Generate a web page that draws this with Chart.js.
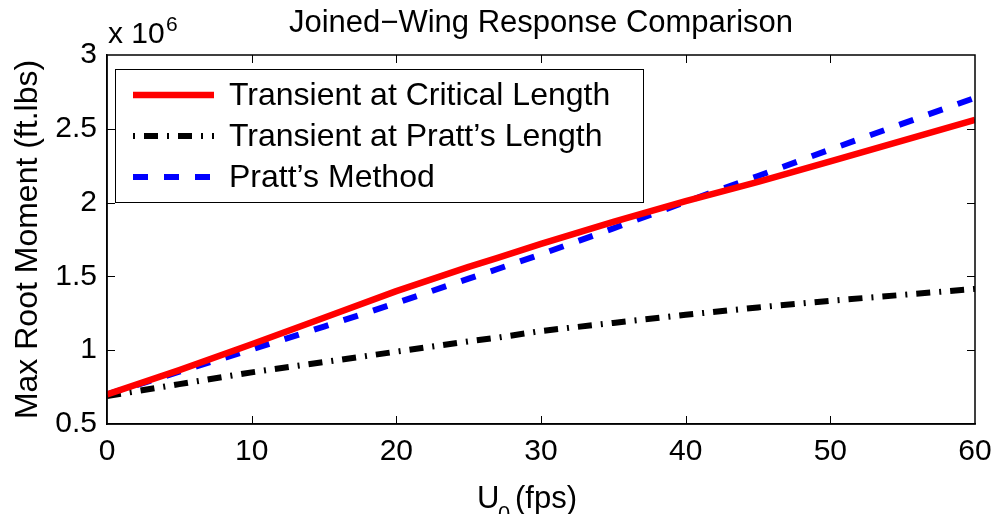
<!DOCTYPE html>
<html>
<head>
<meta charset="utf-8">
<title>Joined-Wing Response Comparison</title>
<script src="https://cdn.jsdelivr.net/npm/chart.js@4"></script>
<style>
  html, body { margin: 0; padding: 0; background: #fff; }
  canvas { display: block; }
</style>
</head>
<body>
<canvas id="momentChart" width="995" height="514"></canvas>
<script>
// U0 (fps) and max root moment, in units of 10^6 ft.lbs
const U0 = [0, 5, 10, 15, 20, 25, 27, 30, 35, 40, 45, 50, 55, 60];
const criticalLength = [0.70, 0.865, 1.04, 1.22, 1.40, 1.565, 1.625, 1.72, 1.87, 2.01, 2.14, 2.28, 2.42, 2.56];
const prattsLength = [0.69, 0.77, 0.85, 0.92, 0.99, 1.06, 1.085, 1.13, 1.185, 1.24, 1.29, 1.335, 1.375, 1.415];
const prattsMethod = [0.70, 0.855, 1.005, 1.16, 1.32, 1.485, 1.55, 1.65, 1.825, 2.005, 2.18, 2.36, 2.535, 2.71];

const seriesLabels = ["Transient at Critical Length", "Transient at Pratt\u2019s Length", "Pratt\u2019s Method"];
const xTicks = [0, 10, 20, 30, 40, 50, 60];
const yTicks = [0.5, 1, 1.5, 2, 2.5, 3];

const FONT = "'Liberation Sans', Arial, Helvetica, sans-serif";

const toPoints = ys => U0.map((x, i) => ({ x: x, y: ys[i] }));

// matlab-ish decorations: box, inward ticks, legend, title, axis labels
const matlabLook = {
  id: "matlabLook",
  afterDraw(chart) {
    const ctx = chart.ctx;
    const a = chart.chartArea;
    const xs = chart.scales.x;
    const ys = chart.scales.y;
    const tick = 8;

    ctx.save();
    ctx.strokeStyle = "#000";
    ctx.lineWidth = 1.5;
    ctx.strokeRect(a.left, a.top, a.right - a.left, a.bottom - a.top);

    ctx.lineWidth = 1;
    ctx.beginPath();
    xTicks.slice(1, -1).forEach(v => {
      const px = Math.round(xs.getPixelForValue(v)) + 0.5;
      ctx.moveTo(px, a.bottom); ctx.lineTo(px, a.bottom - tick);
      ctx.moveTo(px, a.top); ctx.lineTo(px, a.top + tick);
    });
    yTicks.slice(1, -1).forEach(v => {
      const py = Math.round(ys.getPixelForValue(v)) + 0.5;
      ctx.moveTo(a.left, py); ctx.lineTo(a.left + tick, py);
      ctx.moveTo(a.right, py); ctx.lineTo(a.right - tick, py);
    });
    ctx.stroke();

    // legend
    const lx = 115, ly = 69, lw = 528, lh = 133;
    ctx.fillStyle = "#fff";
    ctx.fillRect(lx, ly, lw, lh);
    ctx.strokeStyle = "#000";
    ctx.lineWidth = 1;
    ctx.strokeRect(lx + 0.5, ly + 0.5, lw, lh);
    const rowY = [95, 136, 177];
    chart.data.datasets.forEach((ds, i) => {
      ctx.save();
      ctx.strokeStyle = ds.borderColor;
      ctx.lineWidth = ds.borderWidth;
      ctx.setLineDash(ds.legendDash || ds.borderDash || []);
      ctx.beginPath();
      ctx.moveTo(133, rowY[i]);
      ctx.lineTo(214, rowY[i]);
      ctx.stroke();
      ctx.restore();
      ctx.fillStyle = "#000";
      ctx.font = "32px " + FONT;
      ctx.textAlign = "left";
      ctx.textBaseline = "middle";
      ctx.fillText(ds.label, 229, rowY[i] + 1);
    });

    // title
    ctx.fillStyle = "#000";
    ctx.textAlign = "center";
    ctx.textBaseline = "alphabetic";
    ctx.font = "31px " + FONT;
    ctx.fillText("Joined\u2212Wing Response Comparison", (a.left + a.right) / 2, 32);

    // exponent
    ctx.textAlign = "left";
    ctx.font = "30px " + FONT;
    ctx.fillText("x 10", 108, 43);
    ctx.font = "21px " + FONT;
    ctx.fillText("6", 166, 31);

    // x label with subscript
    ctx.font = "31px " + FONT;
    ctx.fillText("U", 477, 508);
    ctx.font = "22px " + FONT;
    ctx.fillText("0", 498, 521);
    ctx.font = "31px " + FONT;
    ctx.fillText("(fps)", 515, 508);

    // y label
    ctx.save();
    ctx.translate(28, (a.top + a.bottom) / 2);
    ctx.rotate(-Math.PI / 2);
    ctx.textAlign = "center";
    ctx.textBaseline = "middle";
    ctx.font = "32px " + FONT;
    ctx.fillText("Max Root Moment (ft.lbs)", 0, 0);
    ctx.restore();

    ctx.restore();
  }
};

new Chart(document.getElementById("momentChart"), {
  type: "line",
  data: {
    datasets: [
      {
        label: seriesLabels[0],
        data: toPoints(criticalLength),
        borderColor: "#ff0000",
        borderWidth: 6.5,
        borderDash: []
      },
      {
        label: seriesLabels[1],
        data: toPoints(prattsLength),
        borderColor: "#000000",
        borderWidth: 6,
        borderDash: [14, 9, 2, 9],
        legendDash: [2, 9, 14, 9]
      },
      {
        label: seriesLabels[2],
        data: toPoints(prattsMethod),
        borderColor: "#0000ff",
        borderWidth: 6,
        borderDash: [15, 16]
      }
    ]
  },
  options: {
    responsive: false,
    animation: false,
    layout: { padding: { top: 55, right: 20, left: 0, bottom: 0 } },
    elements: {
      point: { radius: 0 },
      line: { tension: 0, borderCapStyle: "butt", borderJoinStyle: "round" }
    },
    plugins: {
      legend: { display: false },
      title: { display: false },
      tooltip: { enabled: false }
    },
    scales: {
      x: {
        type: "linear",
        min: 0,
        max: 60,
        afterBuildTicks: s => { s.ticks = xTicks.map(v => ({ value: v })); },
        afterFit: s => { s.height = 90; s.paddingLeft = 0; s.paddingRight = 0; },
        grid: { display: true, drawOnChartArea: false, drawTicks: false },
        border: { color: "#000", width: 1.5 },
        ticks: { color: "#000", padding: 10, font: { family: FONT, size: 30 }, maxRotation: 0 }
      },
      y: {
        type: "linear",
        min: 0.5,
        max: 3,
        afterBuildTicks: s => { s.ticks = yTicks.map(v => ({ value: v })); },
        afterFit: s => { s.width = 107; s.paddingTop = 0; s.paddingBottom = 0; },
        grid: { display: true, drawOnChartArea: false, drawTicks: false },
        border: { color: "#000", width: 1.5 },
        ticks: { color: "#000", padding: 10, font: { family: FONT, size: 30 }, callback: v => String(v) }
      }
    }
  },
  plugins: [matlabLook]
});
</script>
</body>
</html>
